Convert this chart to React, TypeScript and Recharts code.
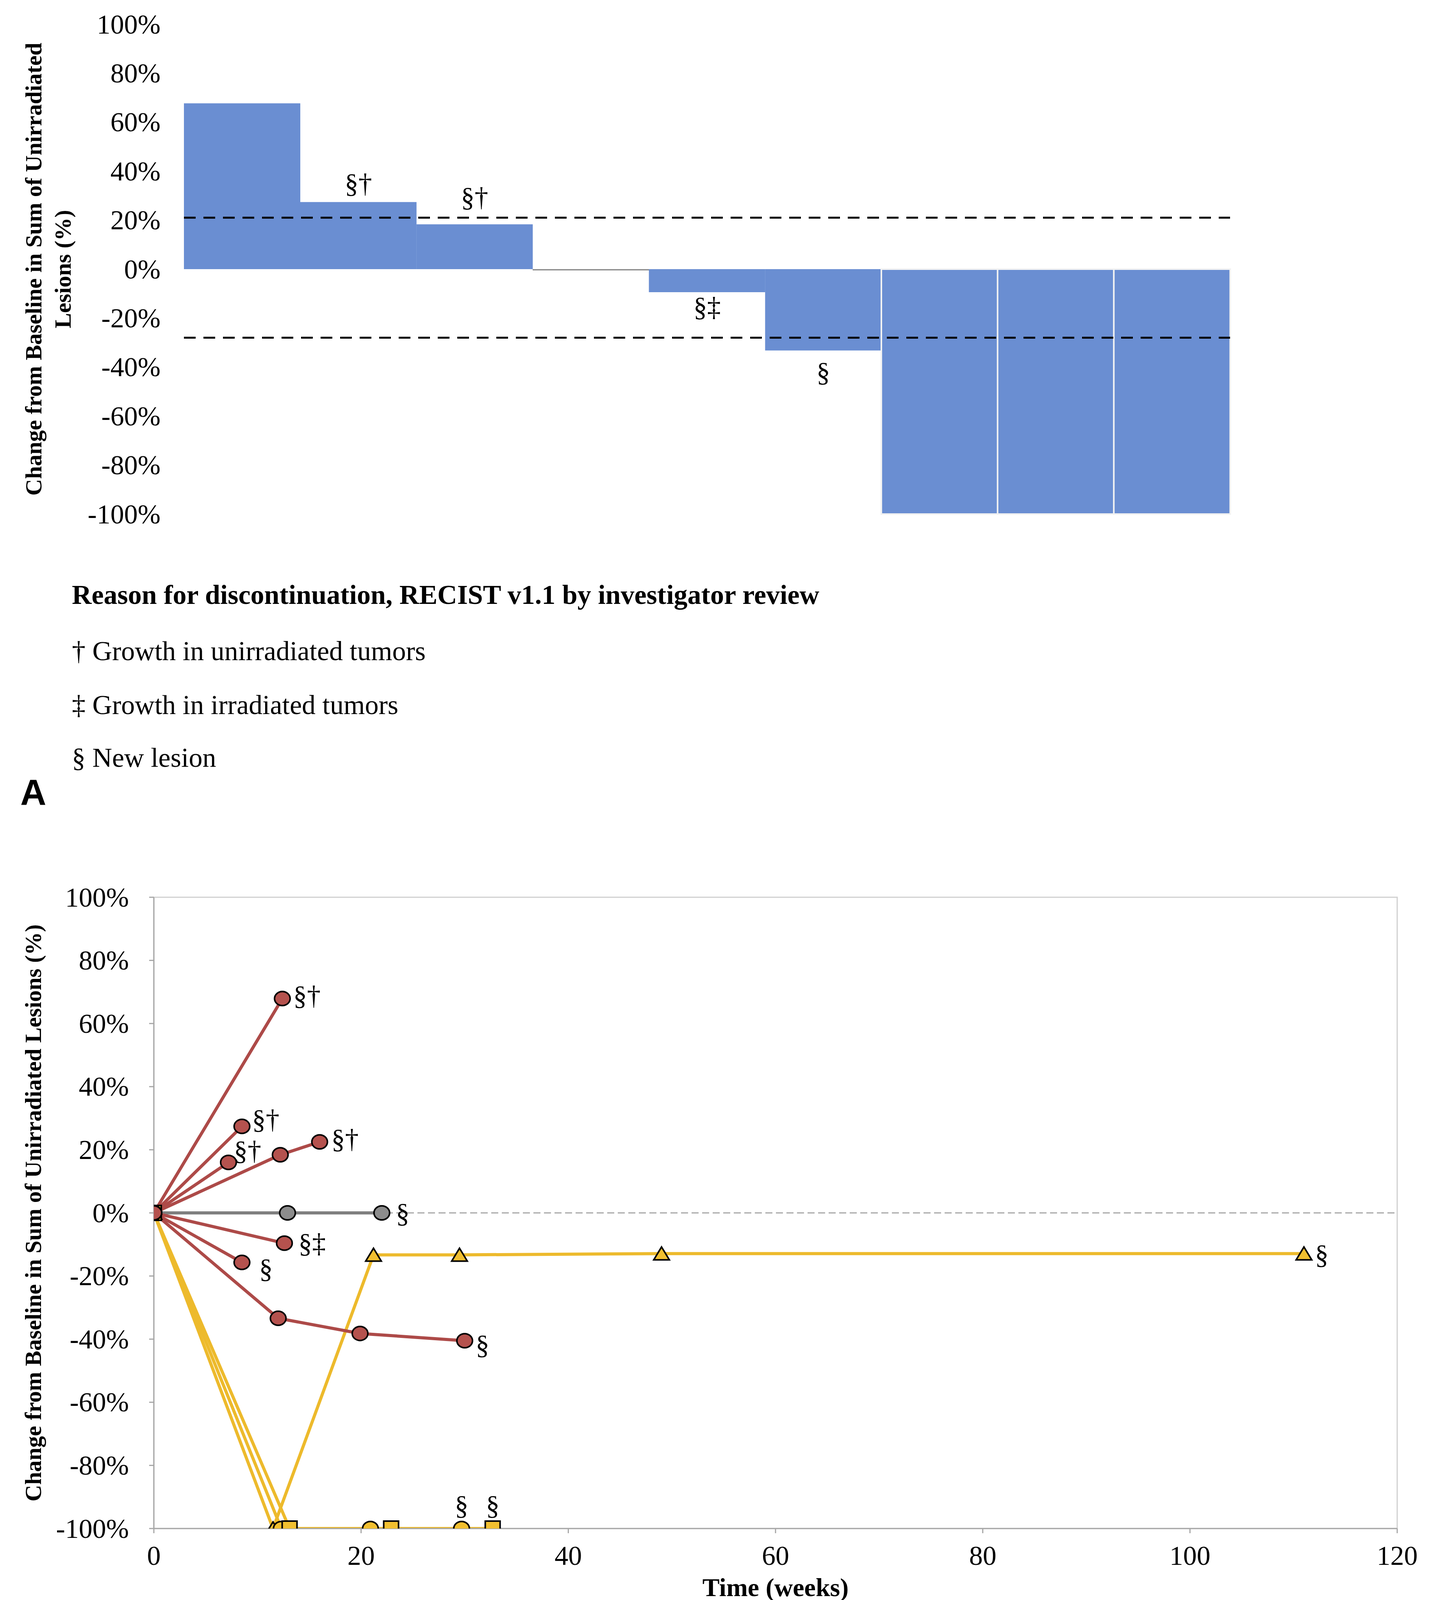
import React from 'react';
import {
  BarChart,
  Bar,
  XAxis,
  YAxis,
  ReferenceLine,
  Cell,
  LabelList,
  LineChart,
  Line,
  ReferenceArea,
  Label,
} from 'recharts';

// ---------------- Panel A : waterfall ----------------
const waterfallPatients = ['1', '2', '3', '4', '5', '6', '7', '8', '9'];
const waterfallChange = [67.7, 27.4, 18.3, -0.5, -9.4, -33.2, -100, -100, -100];
const waterfallNotes = ['', '§†', '§†', '', '§‡', '§', '', '', ''];
const percentTicks = [-100, -80, -60, -40, -20, 0, 20, 40, 60, 80, 100];
const upperThreshold = 21;
const lowerThreshold = -28;

// ---------------- Panel B : spider plot ----------------
const weekTicks = [0, 20, 40, 60, 80, 100, 120];

const crTriangleWeeks = [0, 11.5, 21.2, 29.5, 49.0, 111.0];
const crTriangleChange = [0, -100, -13.3, -13.3, -12.9, -12.9];
const crCircleWeeks = [0, 12.3, 20.9, 29.7];
const crCircleChange = [0, -100, -100, -100];
const crSquareWeeks = [0, 13.1, 22.9, 32.7];
const crSquareChange = [0, -100, -100, -100];
const sdWeeks = [0, 12.9, 22.0];
const sdChange = [0, 0, 0];
const pdAWeeks = [0, 12.4];
const pdAChange = [0, 67.9];
const pdBWeeks = [0, 8.5];
const pdBChange = [0, 27.4];
const pdCWeeks = [0, 7.2];
const pdCChange = [0, 16.0];
const pdDWeeks = [0, 12.2, 16.0];
const pdDChange = [0, 18.4, 22.5];
const pdEWeeks = [0, 12.6];
const pdEChange = [0, -9.6];
const pdFWeeks = [0, 8.5];
const pdFChange = [0, -15.7];
const pdGWeeks = [0, 12.0, 19.9, 30.0];
const pdGChange = [0, -33.4, -38.2, -40.5];

type Series = {
  id: string;
  response: 'CR' | 'SD' | 'PD';
  marker: 'circle' | 'square' | 'triangle';
  weeks: number[];
  change: number[];
  note: string;
};

const spiderSeries: Series[] = [
  { id: 'crTriangle', response: 'CR', marker: 'triangle', weeks: crTriangleWeeks, change: crTriangleChange, note: '§' },
  { id: 'crCircle', response: 'CR', marker: 'circle', weeks: crCircleWeeks, change: crCircleChange, note: '§' },
  { id: 'crSquare', response: 'CR', marker: 'square', weeks: crSquareWeeks, change: crSquareChange, note: '§' },
  { id: 'sd', response: 'SD', marker: 'circle', weeks: sdWeeks, change: sdChange, note: '§' },
  { id: 'pdA', response: 'PD', marker: 'circle', weeks: pdAWeeks, change: pdAChange, note: '§†' },
  { id: 'pdB', response: 'PD', marker: 'circle', weeks: pdBWeeks, change: pdBChange, note: '§†' },
  { id: 'pdC', response: 'PD', marker: 'circle', weeks: pdCWeeks, change: pdCChange, note: '§†' },
  { id: 'pdD', response: 'PD', marker: 'circle', weeks: pdDWeeks, change: pdDChange, note: '§†' },
  { id: 'pdE', response: 'PD', marker: 'circle', weeks: pdEWeeks, change: pdEChange, note: '§‡' },
  { id: 'pdF', response: 'PD', marker: 'circle', weeks: pdFWeeks, change: pdFChange, note: '§' },
  { id: 'pdG', response: 'PD', marker: 'circle', weeks: pdGWeeks, change: pdGChange, note: '§' },
];

// ---------------- styles ----------------
const SERIF = '"Liberation Serif", "Times New Roman", serif';
const SANS = '"Liberation Sans", Arial, sans-serif';
const FS = 70;

const BAR_BLUE = '#6A8ED2';
const RESPONSE_COLORS: Record<string, { line: string; fill: string }> = {
  CR: { line: '#EDBA2C', fill: '#F1BF30' },
  SD: { line: '#7F7F7F', fill: '#8C8C8C' },
  PD: { line: '#AD4A48', fill: '#B5524E' },
};

// note placement (pixels relative to the bar end / last point)
const waterfallNoteGap = [0, 48, 70, 0, 38, 55, 0, 0, 0];
const spiderNotePlace: Record<string, { dx: number; dy: number; anchor: string }> = {
  crTriangle: { dx: 28, dy: 2, anchor: 'start' },
  crCircle: { dx: 0, dy: -60, anchor: 'middle' },
  crSquare: { dx: 0, dy: -60, anchor: 'middle' },
  sd: { dx: 36, dy: 0, anchor: 'start' },
  pdA: { dx: 28, dy: -8, anchor: 'start' },
  pdB: { dx: 26, dy: -18, anchor: 'start' },
  pdC: { dx: 14, dy: -30, anchor: 'start' },
  pdD: { dx: 30, dy: -8, anchor: 'start' },
  pdE: { dx: 36, dy: 0, anchor: 'start' },
  pdF: { dx: 44, dy: 16, anchor: 'start' },
  pdG: { dx: 28, dy: 10, anchor: 'start' },
};

const waterfallData = waterfallPatients.map((p, i) => ({
  patient: p,
  change: waterfallChange[i],
  note: waterfallNotes[i],
}));

const PctTick = (props: any) => {
  const { x, y, payload } = props;
  return (
    <text x={x} y={y} textAnchor="end" dominantBaseline="central" fontFamily={SERIF} fontSize={FS} fill="#000">
      {`${payload.value}%`}
    </text>
  );
};

const WeekTick = (props: any) => {
  const { x, y, payload } = props;
  return (
    <text x={x} y={y} textAnchor="middle" dominantBaseline="central" fontFamily={SERIF} fontSize={FS} fill="#000">
      {payload.value}
    </text>
  );
};

const WaterfallNote = (p: any) => {
  const vb = p.viewBox || p;
  const { x, y, width, height } = vb;
  const idx = typeof p.index === 'number' ? p.index : waterfallNotes.indexOf(p.value);
  const note = p.value;
  if (!note || x == null) return null;
  const val = waterfallChange[idx];
  const top = Math.min(y, y + height);
  const bottom = Math.max(y, y + height);
  const gap = waterfallNoteGap[idx] || 50;
  const cy = val >= 0 ? top - gap : bottom + gap;
  return (
    <text x={x + width / 2} y={cy} textAnchor="middle" dominantBaseline="central" fontFamily={SERIF} fontSize={FS} fill="#000">
      {note}
    </text>
  );
};

function makeDot(s: Series) {
  const n = s.weeks.length;
  const c = RESPONSE_COLORS[s.response];
  const place = spiderNotePlace[s.id];
  return (props: any) => {
    const { cx, cy, index } = props;
    const key = `dot-${s.id}-${index}`;
    if (cx == null || cy == null || isNaN(cx) || isNaN(cy)) return <g key={key} />;
    let shape;
    if (s.marker === 'circle') {
      shape = <ellipse cx={cx} cy={cy} rx={20} ry={18} fill={c.fill} stroke="#000" strokeWidth={4} />;
    } else if (s.marker === 'square') {
      shape = <rect x={cx - 19} y={cy - 19} width={38} height={38} fill={c.fill} stroke="#000" strokeWidth={4} />;
    } else {
      shape = (
        <polygon
          points={`${cx},${cy - 17} ${cx + 20},${cy + 16} ${cx - 20},${cy + 16}`}
          fill={c.fill}
          stroke="#000"
          strokeWidth={4}
          strokeLinejoin="miter"
        />
      );
    }
    const isLast = index === n - 1;
    return (
      <g key={key}>
        {shape}
        {isLast && s.note ? (
          <text
            x={cx + place.dx}
            y={cy + place.dy}
            textAnchor={place.anchor as any}
            dominantBaseline="central"
            fontFamily={SERIF}
            fontSize={FS}
            fill="#000"
          >
            {s.note}
          </text>
        ) : null}
      </g>
    );
  };
}

const T = (props: { x: number; y: number; bold?: boolean; children: React.ReactNode }) => (
  <text
    x={props.x}
    y={props.y}
    dominantBaseline="central"
    fontFamily={SERIF}
    fontSize={FS}
    fontWeight={props.bold ? 'bold' : 'normal'}
    fill="#000"
  >
    {props.children}
  </text>
);

export default function App() {
  return (
    <div style={{ position: 'relative', width: 3662, height: 5479, margin: '-8px 0 0 -8px', background: '#fff', overflow: 'hidden' }}>
      {/* Panel A */}
      <div style={{ position: 'absolute', left: 0, top: 0, width: 3662, height: 1400 }}>
        <BarChart
          width={3662}
          height={1400}
          data={waterfallData}
          margin={{ top: 62, right: 512, bottom: 84, left: 271 }}
          barCategoryGap={0}
          barGap={0}
        >
          <XAxis dataKey="patient" hide />
          <YAxis
            type="number"
            domain={[-100, 100]}
            ticks={percentTicks}
            interval={0}
            width={200}
            axisLine={false}
            tickLine={false}
            tickSize={0}
            tickMargin={60}
            tick={<PctTick />}
          >
            <Label
              content={(p: any) => {
                const vb = p.viewBox || { x: 271, y: 62, width: 200, height: 1254 };
                const cy = vb.y + vb.height / 2;
                return (
                  <g>
                    <text
                      transform={`translate(86, ${cy}) rotate(-90)`}
                      textAnchor="middle"
                      dominantBaseline="central"
                      fontFamily={SERIF}
                      fontWeight="bold"
                      fontSize={59}
                      fill="#000"
                    >
                      Change from Baseline in Sum of Unirradiated
                    </text>
                    <text
                      transform={`translate(161, ${cy}) rotate(-90)`}
                      textAnchor="middle"
                      dominantBaseline="central"
                      fontFamily={SERIF}
                      fontWeight="bold"
                      fontSize={59}
                      fill="#000"
                    >
                      Lesions (%)
                    </text>
                  </g>
                );
              }}
            />
          </YAxis>
          <Bar dataKey="change" fill={BAR_BLUE} isAnimationActive={false}>
            {waterfallData.map((d, i) => (
              <Cell
                key={`c-${i}`}
                fill={Math.abs(d.change) < 1 ? '#8a8a8a' : BAR_BLUE}
                stroke={d.change <= -100 ? '#f2f2f2' : 'none'}
                strokeWidth={d.change <= -100 ? 4 : 0}
              />
            ))}
            <LabelList dataKey="note" content={<WaterfallNote />} />
          </Bar>
          <ReferenceLine y={upperThreshold} stroke="#000" strokeWidth={5} strokeDasharray="30 20" />
          <ReferenceLine y={lowerThreshold} stroke="#000" strokeWidth={5} strokeDasharray="30 20" />
        </BarChart>
      </div>

      {/* Panel A notes */}
      <svg width={3662} height={700} style={{ position: 'absolute', left: 0, top: 1400 }}>
        <g transform="translate(0,-1400)">
          <T x={184} y={1522} bold>Reason for discontinuation, RECIST v1.1 by investigator review</T>
          <T x={184} y={1666}>† Growth in unirradiated tumors</T>
          <T x={184} y={1804}>‡ Growth in irradiated tumors</T>
          <T x={184} y={1939}>§ New lesion</T>
          <text x={52} y={2028} dominantBaseline="central" fontFamily={SANS} fontWeight="bold" fontSize={92} fill="#000">A</text>
        </g>
      </svg>

      {/* Panel B */}
      <div style={{ position: 'absolute', left: 0, top: 2200, width: 3662, height: 1950 }}>
        <LineChart width={3662} height={1950} margin={{ top: 97, right: 84, bottom: 57, left: 94 }}>
          <ReferenceArea x1={0} x2={120} y1={-100} y2={100} fill="none" stroke="#d0d0d0" strokeWidth={3} />
          <XAxis
            type="number"
            dataKey="w"
            domain={[0, 120]}
            ticks={weekTicks}
            interval={0}
            allowDataOverflow
            height={180}
            axisLine={{ stroke: '#a6a6a6', strokeWidth: 3 }}
            tickLine={{ stroke: '#a6a6a6', strokeWidth: 3 }}
            tickSize={12}
            tickMargin={57}
            tick={<WeekTick />}
          >
            <Label
              content={(p: any) => {
                const vb = p.viewBox || { x: 394, y: 1713, width: 3184, height: 180 };
                return (
                  <text
                    x={vb.x + vb.width / 2}
                    y={vb.y + 150}
                    textAnchor="middle"
                    dominantBaseline="central"
                    fontFamily={SERIF}
                    fontWeight="bold"
                    fontSize={66}
                    fill="#000"
                  >
                    Time (weeks)
                  </text>
                );
              }}
            />
          </XAxis>
          <YAxis
            type="number"
            domain={[-100, 100]}
            ticks={percentTicks}
            interval={0}
            allowDataOverflow
            width={300}
            axisLine={{ stroke: '#a6a6a6', strokeWidth: 3 }}
            tickLine={{ stroke: '#a6a6a6', strokeWidth: 3 }}
            tickSize={12}
            tickMargin={52}
            tick={<PctTick />}
          >
            <Label
              content={(p: any) => {
                const vb = p.viewBox || { x: 94, y: 97, width: 300, height: 1616 };
                const cy = vb.y + vb.height / 2;
                return (
                  <text
                    transform={`translate(85, ${cy}) rotate(-90)`}
                    textAnchor="middle"
                    dominantBaseline="central"
                    fontFamily={SERIF}
                    fontWeight="bold"
                    fontSize={59}
                    fill="#000"
                  >
                    Change from Baseline in Sum of Unirradiated Lesions  (%)
                  </text>
                );
              }}
            />
          </YAxis>
          <ReferenceLine y={0} stroke="#a6a6a6" strokeWidth={3} strokeDasharray="18 9" />
          {spiderSeries.map((s) => (
            <Line
              key={s.id}
              data={s.weeks.map((w, i) => ({ w, v: s.change[i] }))}
              dataKey="v"
              type="linear"
              stroke={RESPONSE_COLORS[s.response].line}
              strokeWidth={8}
              dot={makeDot(s)}
              activeDot={false}
              isAnimationActive={false}
            />
          ))}
        </LineChart>
      </div>

      {/* Panel B legend */}
      <svg width={3662} height={1329} style={{ position: 'absolute', left: 0, top: 4150 }}>
        <g transform="translate(0,-4150)">
          <rect x={190} y={4262} width={58} height={50} fill="#F1BF30" stroke="#000" strokeWidth={5} />
          <T x={452} y={4297}>Denotes individual with complete response durable for 20 weeks</T>
          <ellipse cx={219} cy={4404} rx={29} ry={25} fill="#F1BF30" stroke="#000" strokeWidth={5} />
          <T x={452} y={4400}>Denotes individual with complete response durable for 18 weeks</T>
          <polygon points="219,4478 250,4530 188,4530" fill="#F1BF30" stroke="#000" strokeWidth={5} />
          <T x={452} y={4502}>Denotes individual with complete response durable for 108 weeks.</T>
          <T x={191} y={4606} bold>Overall response in unirradiated RECIST v1.1 lesions</T>
          <rect x={191} y={4673} width={88} height={76} fill="#F0BE32" />
          <T x={359} y={4708}>Complete Response</T>
          <rect x={191} y={4775} width={88} height={76} fill="#BFBFBF" />
          <T x={359} y={4810}>Stable disease</T>
          <rect x={191} y={4877} width={88} height={76} fill="#A80000" />
          <T x={359} y={4912}>Progressive disease</T>
          <T x={191} y={5011} bold>Type of progression</T>
          <T x={191} y={5115}>† Growth in unirradiated tumors</T>
          <T x={191} y={5217}>‡ Growth in irradiated tumors</T>
          <T x={191} y={5317}>§ New lesion</T>
          <text x={44} y={5397} dominantBaseline="central" fontFamily={SANS} fontWeight="bold" fontSize={92} fill="#000">B</text>
        </g>
      </svg>
    </div>
  );
}
